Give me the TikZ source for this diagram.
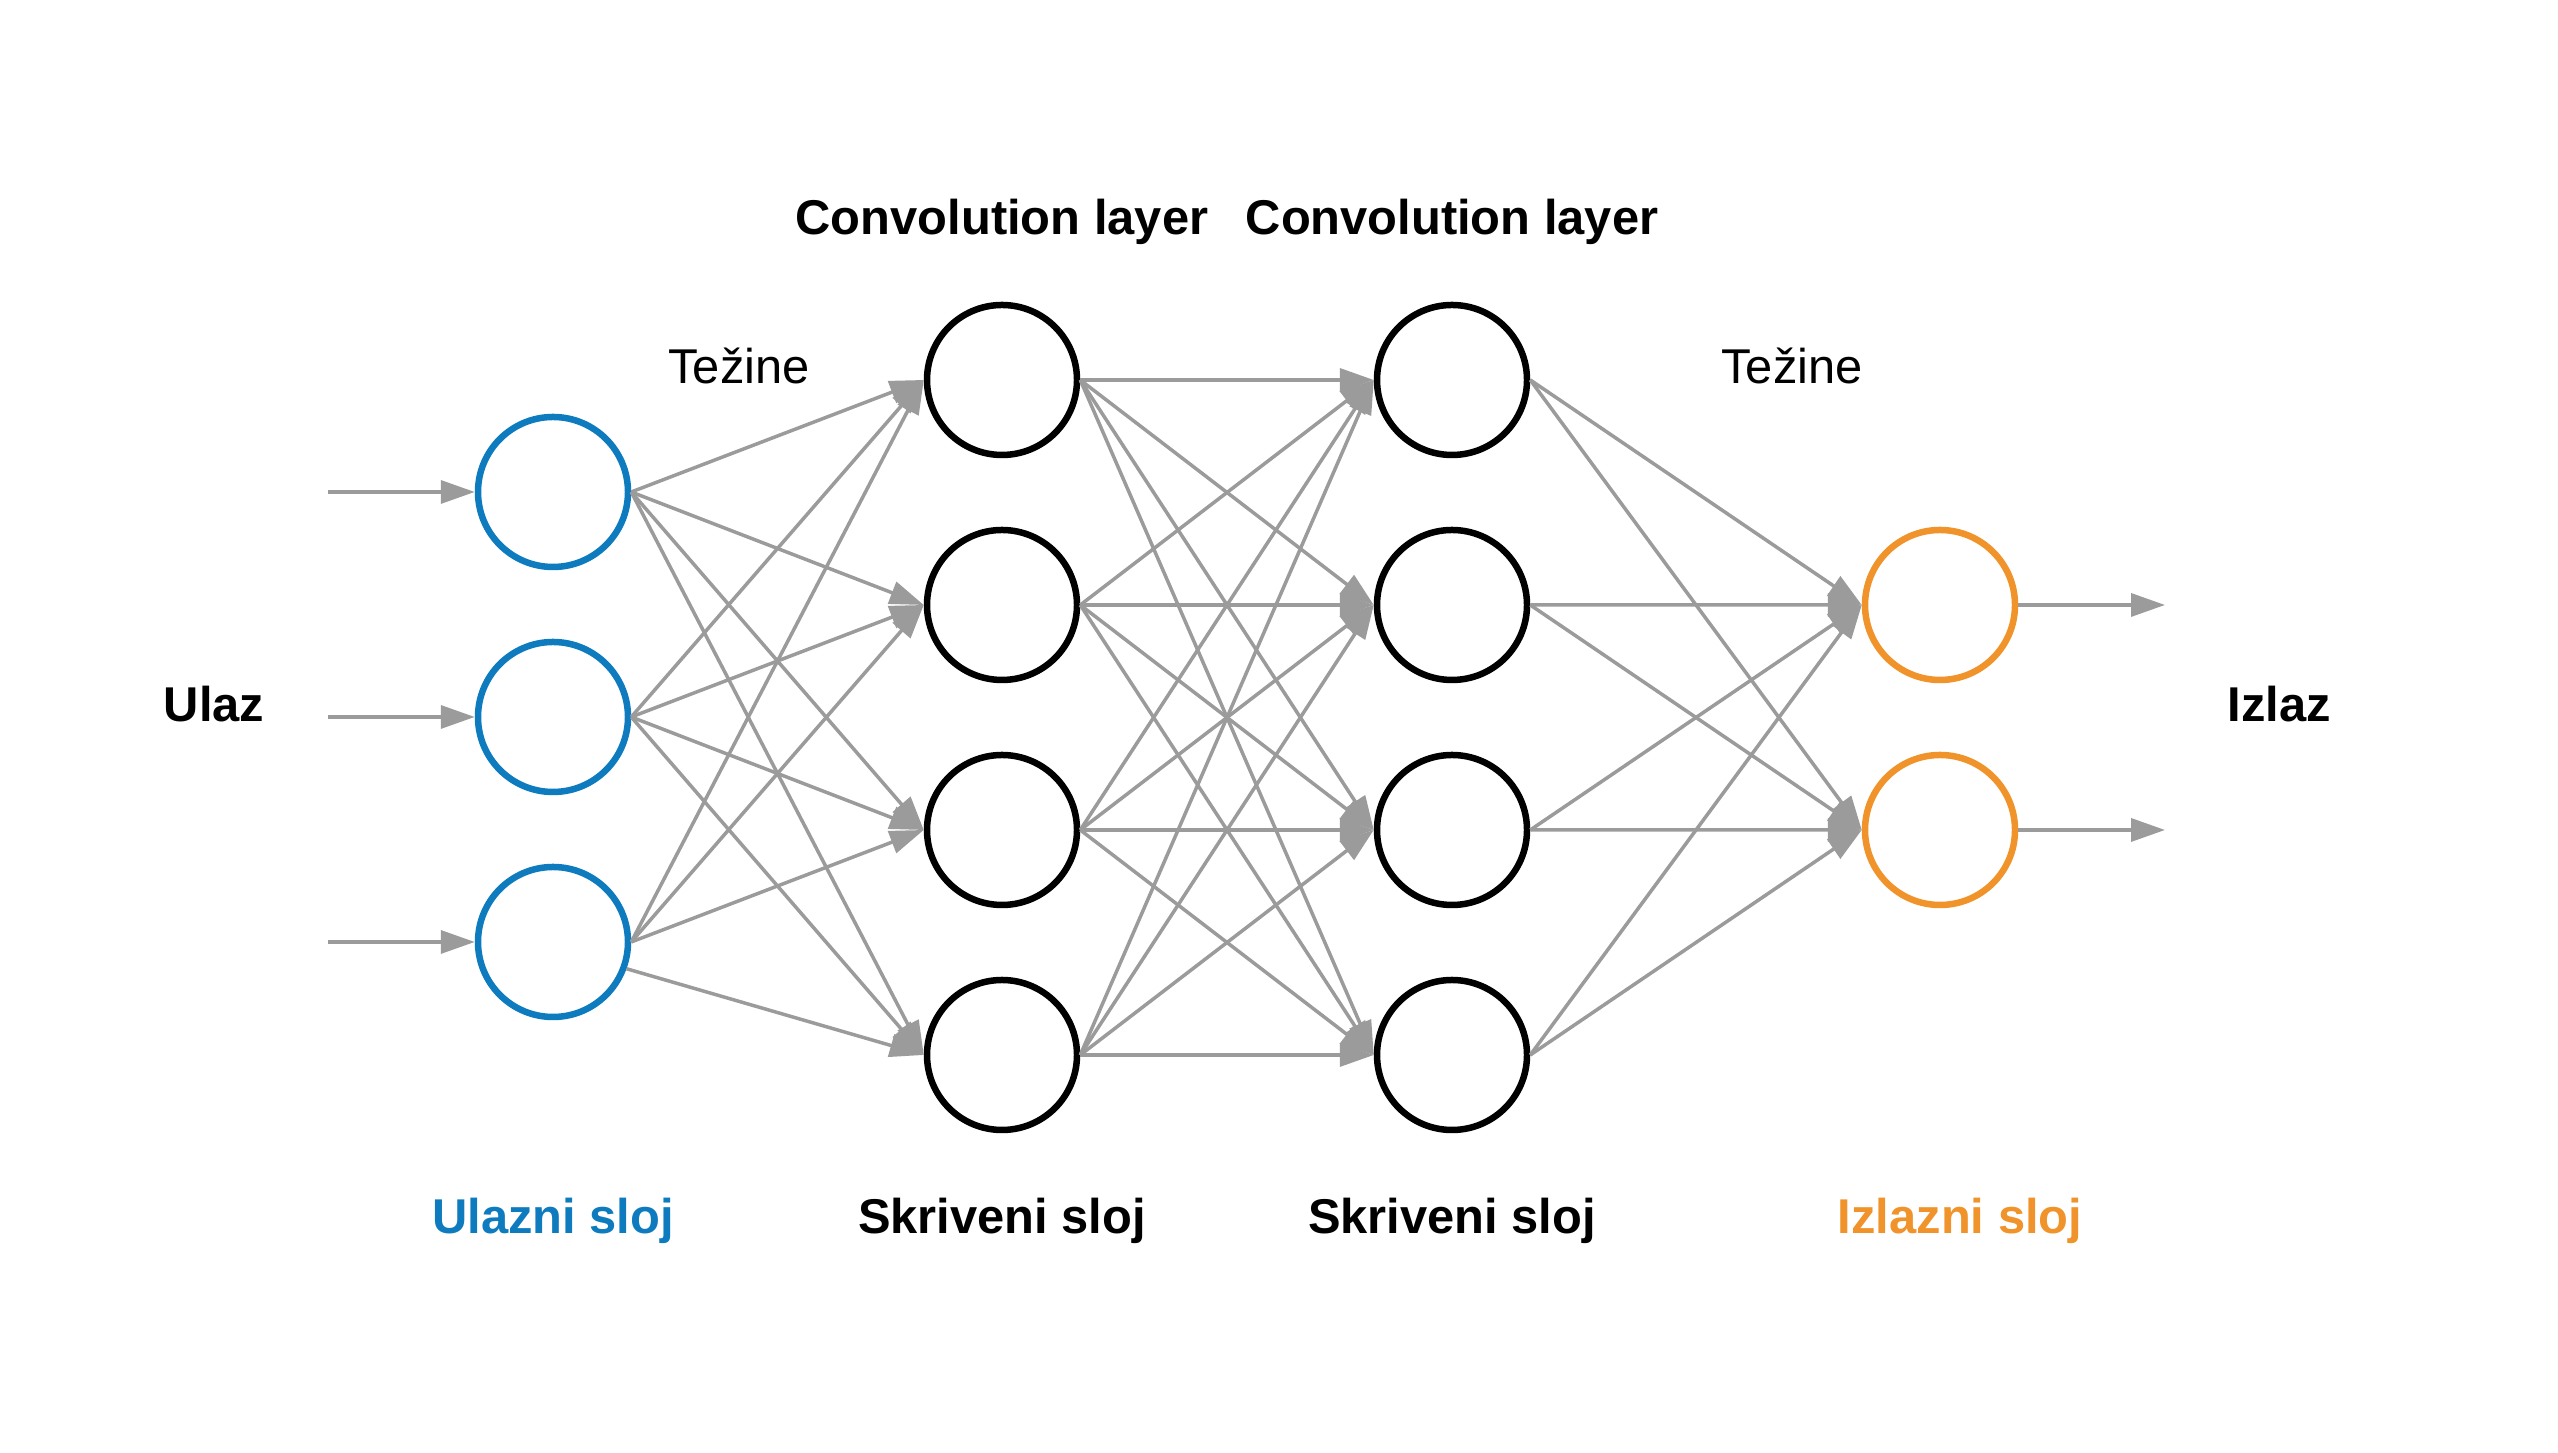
\documentclass[tikz,border=0pt]{standalone}
\usepackage{fontspec}
\setmainfont{Liberation Sans}
\usetikzlibrary{arrows.meta}
\definecolor{inblue}{HTML}{0E7BBE}
\definecolor{outorange}{HTML}{F0932B}
\definecolor{wgray}{HTML}{9B9B9B}
\tikzstyle{neuron} = [circle, minimum size=1.5cm, inner sep=0pt, line width=0.65mm, draw=black]
\tikzstyle{inneuron} = [neuron, draw=inblue]
\tikzstyle{outneuron} = [neuron, draw=outorange]
\tikzstyle{arrow} = [draw=wgray, line width=0.35mm, -{Triangle[length=3.4mm,width=2.3mm]}]
\tikzstyle{title} = [font=\fontsize{13.9}{16}\selectfont\bfseries, anchor=base, inner sep=0pt]
\tikzstyle{weights} = [font=\fontsize{13.9}{16}\selectfont, anchor=base, inner sep=0pt]

\begin{document}
\begin{tikzpicture}[node distance=2.25cm]
  \useasboundingbox (0,0) rectangle (25.58,14.53);
  % input layer
  \node (i1) [inneuron] at (5.53,9.61) {};
  \node (i2) [inneuron, below of=i1] {};
  \node (i3) [inneuron, below of=i2] {};
  % hidden layers
  \node (h11) [neuron] at (10.02,10.73) {};
  \node (h12) [neuron, below of=h11] {};
  \node (h13) [neuron, below of=h12] {};
  \node (h14) [neuron, below of=h13] {};
  \node (h21) [neuron] at (14.52,10.73) {};
  \node (h22) [neuron, below of=h21] {};
  \node (h23) [neuron, below of=h22] {};
  \node (h24) [neuron, below of=h23] {};
  % output layer
  \node (o1) [outneuron] at (19.40,8.48) {};
  \node (o2) [outneuron, below of=o1] {};
  \node (x1) [coordinate, left of=i1] {};
  \node (x2) [coordinate, left of=i2] {};
  \node (x3) [coordinate, left of=i3] {};
  \node (y1) [coordinate, right of=o1] {};
  \node (y2) [coordinate, right of=o2] {};

  % labels
  \node (conv1) [title] at (10.02,12.18) {Convolution layer};
  \node (conv2) [title] at (14.52,12.18) {Convolution layer};
  \node (w1) [weights] at (7.39,10.69) {Težine};
  \node (w2) [weights] at (17.92,10.69) {Težine};
  \node (ulaz) [title] at (2.14,7.31) {Ulaz};
  \node (izlaz) [title] at (22.79,7.31) {Izlaz};
  \node (lin) [title, text=inblue] at (5.53,2.19) {Ulazni sloj};
  \node (lh1) [title] at (10.02,2.19) {Skriveni sloj};
  \node (lh2) [title] at (14.52,2.19) {Skriveni sloj};
  \node (lout) [title, text=outorange] at (19.60,2.19) {Izlazni sloj};

  % connections
  \foreach \i in {1,2,3}
    \draw [arrow] (x\i) -- (i\i.west);
  \foreach \i in {1,2}
    \draw [arrow] (o\i.east) -- (y\i);
  \foreach \i in {1,2}
    \foreach \j in {1,2,3,4}
      \draw [arrow] (i\i.east) -- (h1\j.west);
  \foreach \j in {1,2,3}
    \draw [arrow] (i3.east) -- (h1\j.west);
  \draw [arrow] (i3.-20) -- (h14.west);
  \foreach \i in {1,2,3,4}
    \foreach \j in {1,2,3,4}
      \draw [arrow] (h1\i.east) -- (h2\j.west);
  \foreach \i in {1,2,3,4}
    \foreach \j in {1,2}
      \draw [arrow] (h2\i.east) -- (o\j.west);
\end{tikzpicture}
\end{document}
